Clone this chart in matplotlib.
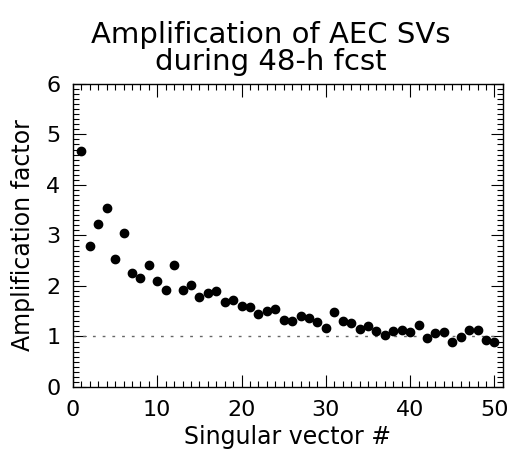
import numpy as np
import matplotlib
matplotlib.use("Agg")
import matplotlib.pyplot as plt
from matplotlib.ticker import MultipleLocator

# Amplification factor por vector singular
sv_index = np.arange(1, 51)
amplification = [4.68, 2.80, 3.22, 3.55, 2.53, 3.05, 2.25, 2.15, 2.41, 2.10,
                 1.91, 2.41, 1.91, 2.02, 1.78, 1.87, 1.90, 1.69, 1.73, 1.60,
                 1.58, 1.44, 1.50, 1.55, 1.32, 1.31, 1.41, 1.37, 1.28, 1.17,
                 1.48, 1.31, 1.26, 1.14, 1.20, 1.10, 1.02, 1.10, 1.12, 1.08,
                 1.23, 0.97, 1.06, 1.08, 0.90, 0.98, 1.12, 1.12, 0.93, 0.90]
reference_level = 1.0

plt.rcParams['font.family'] = ['DejaVu Sans']
fig = plt.figure(figsize=(5.10, 4.58), dpi=100)
ax = fig.add_axes([0.143, 0.155, 0.843, 0.662])

ax.axhline(reference_level, color="#666666", linestyle=(0, (2, 5)), linewidth=1)
ax.scatter(sv_index, amplification, s=36, color="black", zorder=3)

ax.set_xlim(0, 51)
ax.set_ylim(0, 6)
ax.xaxis.set_major_locator(MultipleLocator(10))
ax.xaxis.set_minor_locator(MultipleLocator(1))
ax.yaxis.set_major_locator(MultipleLocator(1))
ax.yaxis.set_minor_locator(MultipleLocator(0.1))
ax.tick_params(which="both", direction="in", top=True, right=True,
               labelsize=16, width=0.8)
ax.tick_params(which="major", length=9, pad=9)
ax.tick_params(which="minor", length=4)
for s in ax.spines.values():
    s.set_linewidth(1)

ax.set_xlabel("Singular vector #", fontsize=17, labelpad=4)
ax.set_ylabel("Amplification factor", fontsize=17, labelpad=8)
ax.set_title("Amplification of AEC SVs\nduring 48-h fcst", fontsize=21,
             linespacing=0.95, pad=10, x=0.46)

plt.savefig("out.png", dpi=100)
